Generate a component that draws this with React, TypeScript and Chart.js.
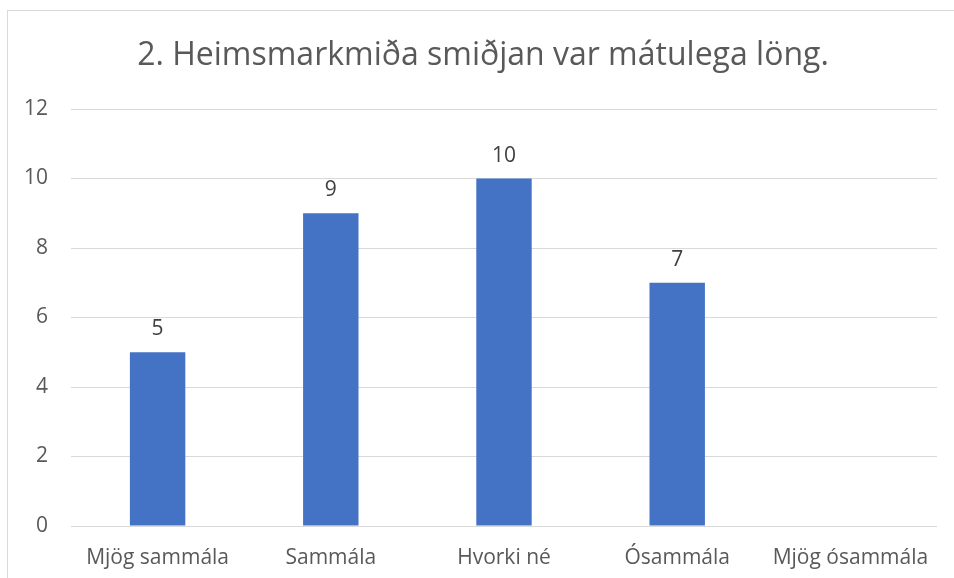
import React, { useEffect, useRef } from "react";
import { Chart, registerables } from "chart.js";

Chart.register(...registerables);

const TITLE = "2. Heimsmarkmiða smiðjan var mátulega löng.";
const categories = ["Mjög sammála", "Sammála", "Hvorki né", "Ósammála", "Mjög ósammála"];
const values: (number | null)[] = [5, 9, 10, 7, null];
const yTicks = [0, 2, 4, 6, 8, 10, 12];

const FONT = "'Open Sans', 'Noto Sans', sans-serif";
const TEXT = "#595959";
const GRID = "#d9d9d9";
const BAR = "#4472c4";

const framePlugin = {
  id: "frame",
  beforeDraw(chart: any) {
    const ctx = chart.ctx;
    ctx.save();
    ctx.fillStyle = "#ffffff";
    ctx.fillRect(0, 0, chart.width, chart.height);
    ctx.strokeStyle = GRID;
    ctx.lineWidth = 1;
    ctx.strokeRect(7.5, 10.5, chart.width + 10, chart.height + 10);
    ctx.restore();
  },
  afterDraw(chart: any) {
    const ctx = chart.ctx;
    ctx.save();
    ctx.fillStyle = TEXT;
    ctx.font = `32px ${FONT}`;
    ctx.textAlign = "center";
    ctx.textBaseline = "middle";
    ctx.fillText(TITLE, 483, 56);
    // value labels
    const meta = chart.getDatasetMeta(0);
    ctx.font = `21px ${FONT}`;
    ctx.fillStyle = "#404040";
    ctx.textBaseline = "alphabetic";
    meta.data.forEach((el: any, i: number) => {
      const v = values[i];
      if (v == null) return;
      ctx.fillText(String(v), el.x, el.y - 17);
    });
    ctx.restore();
  },
};

export default function App() {
  const ref = useRef<HTMLCanvasElement | null>(null);
  useEffect(() => {
    document.body.style.margin = "0";
    const chart = new Chart(ref.current!, {
      type: "bar",
      data: {
        labels: categories,
        datasets: [
          {
            data: values,
            backgroundColor: BAR,
            borderWidth: 0,
            barPercentage: 0.32,
            categoryPercentage: 1,
          },
        ],
      },
      options: {
        animation: false,
        responsive: false,
        maintainAspectRatio: false,
        layout: { padding: { left: 7, right: 17, top: 109, bottom: 0 } },
        plugins: {
          legend: { display: false },
          title: { display: false },
          tooltip: { enabled: false },
        },
        scales: {
          x: {
            grid: { display: false, drawTicks: false },
            border: { display: false },
            ticks: {
              color: TEXT,
              font: { family: FONT, size: 21 },
              padding: 19,
              maxRotation: 0,
              autoSkip: false,
            },
            afterFit(scale: any) {
              scale.height = 52;
            },
          },
          y: {
            min: 0,
            max: 12,
            afterBuildTicks(scale: any) {
              scale.ticks = yTicks.map((v) => ({ value: v }));
            },
            grid: { color: GRID, lineWidth: 1, drawTicks: false },
            border: { display: false },
            ticks: {
              color: TEXT,
              font: { family: FONT, size: 21 },
              padding: 23,
            },
            afterFit(scale: any) {
              scale.width = 64;
            },
          },
        },
      },
      plugins: [framePlugin],
    });
    return () => chart.destroy();
  }, []);
  return (
    <div style={{ width: 954, height: 578 }}>
      <canvas ref={ref} width={954} height={578} style={{ display: "block" }} />
    </div>
  );
}
